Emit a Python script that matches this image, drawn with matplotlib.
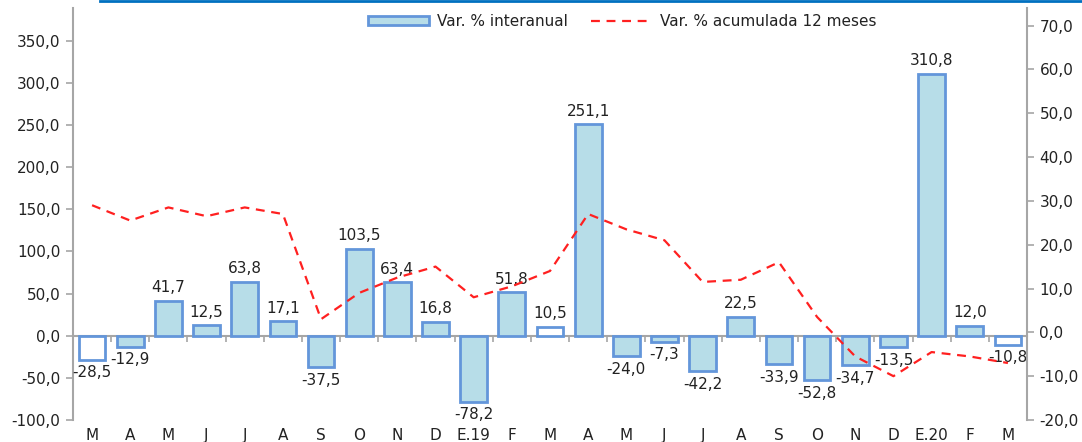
import matplotlib
matplotlib.use("Agg")
import matplotlib.pyplot as plt
import numpy as np
from matplotlib.lines import Line2D
from matplotlib.patches import Patch
from matplotlib.ticker import FuncFormatter

months = ['M', 'A', 'M', 'J', 'J', 'A', 'S', 'O', 'N', 'D', 'E.19', 'F', 'M',
          'A', 'M', 'J', 'J', 'A', 'S', 'O', 'N', 'D', 'E.20', 'F', 'M']
interanual = [-28.5, -12.9, 41.7, 12.5, 63.8, 17.1, -37.5, 103.5, 63.4, 16.8,
              -78.2, 51.8, 10.5, 251.1, -24.0, -7.3, -42.2, 22.5, -33.9, -52.8,
              -34.7, -13.5, 310.8, 12.0, -10.8]
acumulada = [29.0, 25.5, 28.5, 26.5, 28.5, 27.0, 3.0, 9.0, 12.5, 15.0,
             8.0, 10.5, 14.0, 27.0, 23.5, 21.0, 11.5, 12.0, 16.0, 3.5,
             -5.5, -10.0, -4.5, -5.5, -7.0]
# marzo sin relleno
hollow = [0, 12, 24]

plt.rcParams['font.family'] = ['DejaVu Sans']
plt.rcParams['font.size'] = 11

bar_fill = '#b7dde8'
bar_edge = '#6396da'
grey = '#a6a6a6'
txt = '#222222'

fmt = FuncFormatter(lambda v, p: ('%.1f' % v).replace('.', ','))

fig = plt.figure(figsize=(10.82, 4.42), dpi=100)
ax = fig.add_axes([73 / 1082, 22 / 442, 954 / 1082, 412 / 442])
ax2 = ax.twinx()

x = np.arange(len(months))
fills = [('white' if i in hollow else bar_fill) for i in range(len(months))]
ax.bar(x, interanual, width=0.7, color=fills, edgecolor=bar_edge, linewidth=2, zorder=3)

for xi, v in zip(x, interanual):
    lab = ('%.1f' % v).replace('.', ',')
    if v >= 0:
        ax.annotate(lab, (xi, v), xytext=(0, 4), textcoords='offset points',
                    ha='center', va='bottom', color=txt)
    else:
        ax.annotate(lab, (xi, v), xytext=(0, -4), textcoords='offset points',
                    ha='center', va='top', color=txt)

ax2.plot(x, acumulada, color='#ff2020', lw=1.6, dashes=(4, 3))

ax.set_xlim(-0.5, len(months) - 0.5)
ax.set_ylim(-100, 389)
ax2.set_ylim(-20, 74)
ax.set_yticks(np.arange(-100, 351, 50))
ax2.set_yticks(np.arange(-20, 71, 10))
ax.yaxis.set_major_formatter(fmt)
ax2.yaxis.set_major_formatter(fmt)

ax.set_xticks(x)
ax.set_xticklabels(months)
ax.tick_params(axis='x', length=0, pad=6, colors=txt)
ax.tick_params(axis='y', length=5, width=1.2, color=grey, labelcolor=txt, pad=4)
ax2.tick_params(axis='y', length=5, width=1.2, color=grey, labelcolor=txt, pad=4)

for a in (ax, ax2):
    for s in a.spines.values():
        s.set_visible(False)
ax.spines['left'].set_visible(True)
ax.spines['left'].set_color(grey)
ax.spines['left'].set_linewidth(1.5)
ax2.spines['right'].set_visible(True)
ax2.spines['right'].set_color(grey)
ax2.spines['right'].set_linewidth(1.5)

# linea de cero con marcas entre categorias
zero_frac = (0 - (-100)) / (389 - (-100))
sec = ax.secondary_xaxis(zero_frac)
sec.set_xticks(np.arange(len(months) + 1) - 0.5)
sec.set_xticklabels([])
sec.tick_params(axis='x', direction='out', length=4, width=1.2, color=grey)
sec.spines['bottom'].set_color(grey)
sec.spines['bottom'].set_linewidth(1.5)

handles = [Patch(facecolor=bar_fill, edgecolor=bar_edge, linewidth=2),
           Line2D([], [], color='#ff2020', lw=1.6, dashes=(4, 3))]
fig.legend(handles, ['Var. % interanual', 'Var. % acumulada 12 meses'],
           loc='upper center', bbox_to_anchor=(0.575, 1.0), ncol=2, frameon=False,
           handlelength=4.0, handleheight=0.5, handletextpad=0.5,
           columnspacing=1.5, labelcolor=txt)

fig.add_artist(Line2D([100 / 1082, 1.0], [1 - 1 / 442, 1 - 1 / 442],
                      color='#0070c0', lw=2, transform=fig.transFigure))

fig.savefig('out.png', dpi=100)
